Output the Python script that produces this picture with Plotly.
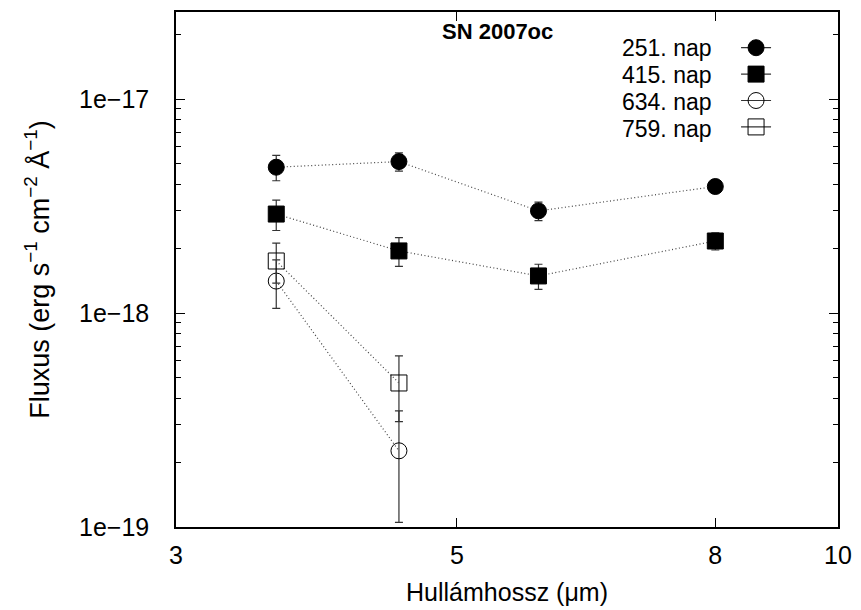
import math
import plotly.graph_objects as go

# Data (wavelength in micron, flux in erg/s/cm2/A)
wavelengths = [3.6, 4.5, 5.8, 8.0]

day251_flux = [4.8e-18, 5.1e-18, 3.0e-18, 3.9e-18]
day251_err = [0.65e-18, 0.5e-18, 0.3e-18, 0.1e-18]

day415_flux = [2.9e-18, 1.95e-18, 1.49e-18, 2.17e-18]
day415_err = [0.47e-18, 0.3e-18, 0.2e-18, 0.2e-18]

day634_wl = [3.6, 4.5]
day634_flux = [1.41e-18, 2.27e-19]
day634_err = [0.36e-18, 1.22e-19]

day759_wl = [3.6, 4.5]
day759_flux = [1.75e-18, 4.71e-19]
day759_err = [0.37e-18, 1.6e-19]

labels = ["251. nap", "415. nap", "634. nap", "759. nap"]
x_tickvals = [3, 5, 8, 10]
y_tickvals = [1e-19, 1e-18, 1e-17]
y_ticktext = ["1e\u221219", "1e\u221218", "1e\u221217"]
y_minor = [m * 10.0 ** e for e in (-19, -18, -17) for m in range(2, 10)]

FONT = "Liberation Sans, Arial, sans-serif"

fig = go.Figure()

series = [
    (wavelengths, day251_flux, day251_err, labels[0], "circle"),
    (wavelengths, day415_flux, day415_err, labels[1], "square"),
    (day634_wl, day634_flux, day634_err, labels[2], "circle-open"),
    (day759_wl, day759_flux, day759_err, labels[3], "square-open"),
]

for xs, ys, es, name, sym in series:
    fig.add_trace(go.Scatter(
        x=xs, y=ys, name=name, mode="lines+markers", showlegend=False,
        line=dict(color="#444444", width=1.2, dash="1px,2.5px"),
        marker=dict(symbol=sym, size=16, color="black", line=dict(color="black", width=1)),
        error_y=dict(type="data", array=es, visible=True, color="#333333",
                     thickness=1.2, width=4),
    ))

# legend key samples (symbol with a horizontal bar, gnuplot style); text drawn as annotations
legend_y = [0.930, 0.878, 0.825, 0.773]
for (xs, ys, es, name, sym), ly in zip(series, legend_y):
    fig.add_trace(go.Scatter(
        x=[None], y=[None], name=" ", mode="lines+markers", showlegend=True,
        line=dict(color="#333333", width=1.2, dash="solid"),
        marker=dict(symbol=sym, size=16, color="black", line=dict(color="black", width=1)),
    ))
    fig.add_annotation(
        text=name, xref="paper", yref="paper", x=0.812, y=ly,
        xanchor="right", yanchor="middle", showarrow=False,
        font=dict(family=FONT, size=23, color="black"),
    )

fig.add_annotation(
    text="<b>SN 2007oc</b>", xref="paper", yref="paper",
    x=0.485, y=0.99, xanchor="center", yanchor="top", showarrow=False,
    font=dict(family=FONT, size=22, color="black"),
)

axis_common = dict(
    showline=True, linecolor="black", linewidth=1.5, mirror="allticks",
    ticks="inside", tickcolor="black", tickwidth=1, showgrid=False, zeroline=False,
    tickfont=dict(family=FONT, size=25, color="black"), automargin=False,
)

fig.update_xaxes(
    type="log", range=[math.log10(3), 1],
    tickmode="array", tickvals=x_tickvals, ticktext=[str(v) for v in x_tickvals],
    ticklen=9, ticklabelstandoff=5,
    title=dict(text="Hullámhossz (μm)", font=dict(family=FONT, size=25, color="black"), standoff=16),
    **axis_common,
)
fig.update_yaxes(
    type="log", range=[-19, math.log10(2.55e-17)],
    tickmode="array", tickvals=y_tickvals, ticktext=y_ticktext,
    ticklen=9, ticklabelstandoff=20,
    minor=dict(tickmode="array", tickvals=y_minor, ticks="inside", ticklen=5, tickcolor="black"),
    title=dict(text="Fluxus (erg s<sup>\u22121</sup> cm<sup>\u22122</sup> Å<sup>\u22121</sup>)",
               font=dict(family=FONT, size=27, color="black"), standoff=22),
    **axis_common,
)

fig.update_layout(
    width=861, height=610,
    margin=dict(l=176, r=23, t=12, b=83, autoexpand=False),
    plot_bgcolor="white", paper_bgcolor="white",
    font=dict(family=FONT, size=22, color="black"),
    showlegend=True,
    legend=dict(x=0.846, y=0.966, xanchor="left", yanchor="top",
                bgcolor="rgba(0,0,0,0)", font=dict(family=FONT, size=18),
                tracegroupgap=0, itemwidth=30),
)

fig.write_html("out.html")
